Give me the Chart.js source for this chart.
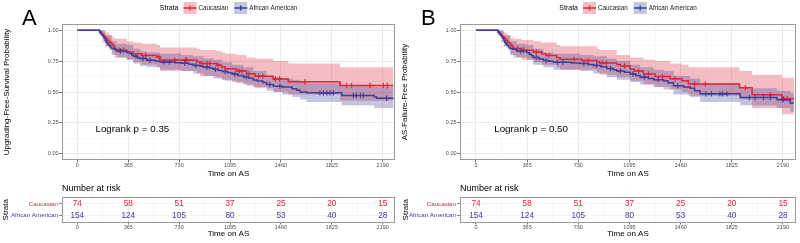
<!DOCTYPE html>
<html>
<head>
<meta charset="utf-8">
<script src="https://cdn.jsdelivr.net/npm/chart.js@4.4.1/dist/chart.umd.min.js"></script>
<style>
  html, body { margin: 0; padding: 0; background: #fff; }
  #wrap { position: relative; width: 800px; height: 243px; overflow: hidden; font-family: 'Liberation Sans', Arial, sans-serif; }
  canvas { position: absolute; }
  .tag { position: absolute; font-size: 22px; line-height: 22px; color: #000; }
</style>
</head>
<body>
<div id="wrap">
  <canvas id="kmA" width="400" height="180" style="left:0;top:0"></canvas>
  <canvas id="riskA" width="400" height="61" style="left:0;top:182px"></canvas>
  <canvas id="kmB" width="400" height="180" style="left:400px;top:0"></canvas>
  <canvas id="riskB" width="400" height="61" style="left:400px;top:182px"></canvas>
  <div class="tag" style="left:22px;top:7px">A</div>
  <div class="tag" style="left:421px;top:7px">B</div>
</div>
<script>
const FONT = "'Liberation Sans', Arial, sans-serif";
const RED = "#dc2638";
const BLUE = "#3e3e96";
const RED_BAND = "rgba(220, 38, 56, 0.3)";
const BLUE_BAND = "rgba(62, 62, 150, 0.3)";

const groups = ["Caucasian", "African American"];
const xTicks = [0, 365, 730, 1095, 1460, 1825, 2190];
const yTicks = [0, 0.25, 0.5, 0.75, 1];

// number at risk table
const riskTimes = [0, 365, 730, 1095, 1460, 1825, 2190];
const cauRisk = [74, 58, 51, 37, 25, 20, 15];
const aaRisk = [154, 124, 105, 80, 53, 40, 28];

// KM curves: [time, survival, censored]
const cauA = [
  [0, 1, 0], [158, .986, 0], [170, .973, 0], [182, .959, 0], [194, .946, 0], [205, .932, 0], [216, .919, 0],
  [228, .905, 0], [240, .892, 0], [252, .878, 0], [262, .865, 0], [268, .851, 0], [275, .838, 0], [300, .838, 1],
  [330, .838, 1], [354, .824, 0], [400, .810, 0], [461, .796, 0], [490, .796, 1], [569, .782, 0], [585, .782, 1],
  [593, .758, 0], [700, .758, 1], [775, .758, 1], [785, .758, 1], [856, .745, 0], [880, .731, 0], [895, .731, 1],
  [930, .731, 1], [950, .731, 1], [999, .717, 0], [1010, .717, 1], [1035, .703, 0], [1060, .689, 0], [1142, .669, 0],
  [1160, .669, 1], [1180, .669, 1], [1214, .648, 0], [1230, .648, 1], [1274, .628, 0], [1300, .628, 1], [1330, .628, 1],
  [1405, .605, 0], [1420, .605, 1], [1450, .605, 1], [1513, .583, 0], [1632, .583, 1], [1883, .553, 0], [1931, .553, 1],
  [1967, .553, 1], [2099, .553, 1], [2194, .553, 1], [2223, .553, 1], [2266, .553, 0],
];
const aaA = [
  [0, 1, 0], [160, .987, 0], [168, .974, 0], [176, .961, 0], [184, .948, 0], [192, .935, 0], [200, .916, 0],
  [208, .903, 0], [216, .890, 0], [226, .877, 0], [236, .864, 0], [246, .851, 0], [262, .845, 0], [282, .832, 0],
  [310, .832, 1], [354, .819, 0], [375, .812, 0], [390, .799, 0], [402, .790, 0], [420, .790, 1], [430, .777, 0],
  [449, .770, 0], [470, .770, 1], [497, .756, 0], [520, .756, 1], [560, .749, 0], [593, .742, 0], [620, .742, 1],
  [660, .742, 1], [700, .737, 0], [748, .732, 0], [770, .732, 1], [800, .725, 0], [830, .715, 0], [850, .715, 1],
  [880, .708, 0], [905, .701, 0], [930, .701, 1], [950, .692, 0], [975, .683, 0], [990, .683, 1], [1010, .674, 0],
  [1040, .665, 0], [1060, .665, 1], [1080, .656, 0], [1110, .645, 0], [1130, .645, 1], [1150, .634, 0], [1190, .622, 0],
  [1210, .622, 1], [1230, .611, 0], [1262, .598, 0], [1290, .588, 0], [1330, .576, 0], [1358, .561, 0], [1380, .561, 1],
  [1406, .547, 0], [1453, .547, 1], [1470, .540, 0], [1540, .527, 0], [1575, .514, 0], [1597, .500, 0], [1645, .493, 0],
  [1740, .493, 1], [1765, .493, 1], [1790, .493, 1], [1812, .493, 1], [1836, .493, 1], [1896, .472, 0], [1979, .472, 1],
  [2000, .472, 1], [2030, .472, 1], [2050, .472, 1], [2130, .460, 0], [2147, .450, 0], [2218, .450, 1], [2268, .450, 0],
];
const cauB = [
  [0, 1, 0], [155, .986, 0], [167, .973, 0], [179, .959, 0], [191, .946, 0], [202, .932, 0], [213, .919, 0],
  [225, .905, 0], [237, .892, 0], [249, .878, 0], [260, .865, 0], [267, .851, 0], [295, .851, 1], [326, .838, 0],
  [340, .838, 1], [409, .824, 0], [430, .824, 1], [469, .810, 0], [500, .796, 0], [520, .796, 1], [576, .778, 0],
  [600, .764, 0], [700, .764, 1], [755, .755, 0], [800, .755, 1], [862, .745, 0], [880, .735, 0], [900, .735, 1],
  [930, .735, 1], [1004, .722, 0], [1030, .710, 0], [1060, .710, 1], [1100, .685, 0], [1130, .670, 0], [1160, .670, 1],
  [1195, .645, 0], [1230, .645, 1], [1278, .625, 0], [1330, .625, 1], [1386, .607, 0], [1420, .607, 1], [1469, .590, 0],
  [1516, .565, 0], [1560, .565, 1], [1636, .565, 1], [1880, .534, 0], [1921, .534, 1], [1970, .477, 0], [2100, .477, 1],
  [2183, .445, 0], [2195, .445, 1], [2219, .445, 1], [2268, .445, 0],
];
const aaB = [
  [0, 1, 0], [158, .987, 0], [166, .974, 0], [174, .961, 0], [182, .948, 0], [190, .935, 0], [198, .916, 0],
  [206, .903, 0], [214, .890, 0], [222, .877, 0], [232, .864, 0], [243, .851, 0], [262, .845, 0], [290, .832, 0],
  [320, .832, 1], [362, .819, 0], [380, .806, 0], [395, .793, 0], [409, .780, 0], [430, .780, 1], [450, .767, 0],
  [481, .755, 0], [500, .755, 1], [520, .748, 0], [552, .740, 0], [580, .740, 1], [620, .740, 1], [680, .735, 0],
  [743, .730, 0], [770, .730, 1], [800, .722, 0], [838, .715, 0], [860, .715, 1], [890, .705, 0], [933, .690, 0],
  [960, .690, 1], [980, .680, 0], [1004, .670, 0], [1030, .670, 1], [1060, .660, 0], [1100, .645, 0], [1120, .645, 1],
  [1140, .633, 0], [1171, .620, 0], [1200, .620, 1], [1230, .610, 0], [1266, .600, 0], [1300, .600, 1], [1338, .590, 0],
  [1370, .575, 0], [1409, .550, 0], [1440, .550, 1], [1480, .540, 0], [1528, .530, 0], [1560, .510, 0], [1599, .485, 0],
  [1640, .485, 1], [1680, .485, 1], [1740, .485, 1], [1760, .485, 1], [1790, .485, 1], [1885, .455, 0], [1950, .455, 1],
  [1990, .455, 1], [2050, .455, 1], [2100, .455, 1], [2147, .437, 0], [2190, .437, 1], [2242, .412, 0], [2268, .412, 0],
];

// confidence bands: [time, lower, upper]
const cauBandA = [
  [0, 1, 1], [158, .96, 1], [182, .90, .99], [205, .87, .98], [228, .84, .96], [252, .81, .94], [268, .78, .93],
  [354, .76, .91], [400, .74, .90], [461, .72, .89], [569, .70, .88], [593, .67, .86], [856, .65, .85], [880, .63, .84],
  [999, .62, .83], [1035, .60, .82], [1060, .59, .81], [1142, .57, .80], [1214, .55, .78], [1274, .53, .77],
  [1405, .50, .75], [1513, .48, .73], [1883, .43, .70], [2266, .43, .70],
];
const aaBandA = [
  [0, 1, 1], [160, .97, 1], [200, .87, .96], [246, .80, .91], [282, .78, .89], [354, .76, .88], [402, .73, .85],
  [449, .71, .83], [497, .70, .82], [593, .68, .81], [748, .67, .80], [830, .65, .79], [905, .63, .77], [975, .61, .76],
  [1040, .60, .74], [1110, .58, .72], [1190, .56, .70], [1262, .54, .67], [1358, .51, .63], [1406, .50, .62],
  [1470, .48, .61], [1540, .46, .60], [1597, .44, .58], [1645, .42, .57], [1896, .39, .55], [2130, .37, .54], [2268, .37, .54],
];
const cauBandB = [
  [0, 1, 1], [155, .96, 1], [179, .90, .99], [202, .87, .98], [225, .84, .96], [249, .81, .94], [267, .78, .93],
  [326, .76, .92], [409, .74, .91], [469, .72, .90], [576, .70, .88], [600, .68, .87], [862, .66, .85], [880, .64, .84],
  [1004, .62, .80], [1100, .59, .78], [1195, .56, .76], [1278, .54, .75], [1386, .52, .73], [1469, .50, .72],
  [1516, .47, .70], [1880, .44, .67], [1970, .37, .64], [2183, .32, .615], [2268, .32, .615],
];
const aaBandB = [
  [0, 1, 1], [158, .97, 1], [198, .87, .96], [243, .80, .91], [290, .78, .89], [362, .76, .88], [409, .72, .85],
  [481, .70, .82], [552, .68, .81], [743, .67, .80], [838, .65, .79], [933, .62, .77], [1004, .60, .75], [1100, .58, .72],
  [1171, .56, .70], [1266, .54, .68], [1338, .52, .67], [1409, .48, .63], [1528, .46, .61], [1599, .42, .57],
  [1885, .39, .53], [2147, .37, .51], [2242, .34, .49], [2268, .34, .49],
];

// grid: major ticks plus ggplot style minor lines half way between
const xMinor = xTicks.slice(1).map((v, i) => (v + xTicks[i]) / 2);
const yMinor = yTicks.slice(1).map((v, i) => (v + yTicks[i]) / 2);
const xGrid = [...xTicks, ...xMinor].sort((a, b) => a - b);
const yGrid = [...yTicks, ...yMinor].sort((a, b) => a - b);

const TICK_FONT = { family: FONT, size: 5.5 };
const TITLE_FONT = { family: FONT, size: 8 };

// gray border round the panel
const frame = {
  id: "frame",
  afterDraw(chart) {
    const { ctx, chartArea: a } = chart;
    ctx.save();
    ctx.strokeStyle = "#9a9a9a";
    ctx.lineWidth = 1;
    ctx.strokeRect(Math.round(a.left) + 0.5, Math.round(a.top) + 0.5, Math.round(a.right - a.left) - 1, Math.round(a.bottom - a.top) - 1);
    ctx.restore();
  },
};

// legend on top + logrank text
const kmExtras = {
  id: "kmExtras",
  afterDraw(chart, args, opts) {
    const { ctx, chartArea: a, scales } = chart;
    ctx.save();
    ctx.textBaseline = "middle";
    ctx.textAlign = "left";
    ctx.fillStyle = "#000";
    ctx.font = `9.8px ${FONT}`;
    ctx.fillText(opts.pval, scales.x.getPixelForValue(opts.at[0]), scales.y.getPixelForValue(opts.at[1]));

    const cy = 8;
    const key = 13;
    ctx.font = `7px ${FONT}`;
    const wS = ctx.measureText("Strata").width;
    ctx.font = `6.3px ${FONT}`;
    const w1 = ctx.measureText(groups[0]).width;
    const w2 = ctx.measureText(groups[1]).width;
    const total = wS + 5 + key + 2 + w1 + 6 + key + 2 + w2;
    let x0 = (a.left + a.right) / 2 - total / 2;
    ctx.font = `7px ${FONT}`;
    ctx.fillText("Strata", x0, cy);
    x0 += wS + 5;
    [[RED, RED_BAND, groups[0], w1], [BLUE, BLUE_BAND, groups[1], w2]].forEach(([line, fill, label, w]) => {
      ctx.fillStyle = fill;
      ctx.fillRect(x0, cy - 6, key, 12);
      ctx.strokeStyle = line;
      ctx.lineWidth = 1.4;
      ctx.beginPath();
      ctx.moveTo(x0, cy);
      ctx.lineTo(x0 + key, cy);
      ctx.moveTo(x0 + key / 2, cy - 2.6);
      ctx.lineTo(x0 + key / 2, cy + 2.6);
      ctx.stroke();
      ctx.fillStyle = "#1a1a1a";
      ctx.font = `6.3px ${FONT}`;
      ctx.fillText(label, x0 + key + 2, cy);
      x0 += key + 2 + w + 6;
    });
    ctx.restore();
  },
};

// counts written at each point of the risk table
const riskLabels = {
  id: "riskLabels",
  afterDatasetsDraw(chart) {
    const { ctx, chartArea: a } = chart;
    ctx.save();
    ctx.textAlign = "center";
    ctx.textBaseline = "middle";
    ctx.font = `8.2px ${FONT}`;
    chart.data.datasets.forEach((ds, i) => {
      ctx.fillStyle = ds.textColor;
      chart.getDatasetMeta(i).data.forEach((pt, j) => {
        ctx.fillText(String(ds.data[j].n), pt.x, pt.y);
      });
    });
    ctx.textAlign = "left";
    ctx.fillStyle = "#000";
    ctx.font = `9px ${FONT}`;
    ctx.fillText("Number at risk", a.left, a.top - 8);
    ctx.restore();
  },
};

const isMajorX = (v) => xTicks.includes(v);
const isMajorY = (v) => yTicks.includes(v);

const xScale = (xMin, xMax, height, titlePad, tickLen) => ({
  type: "linear",
  min: xMin,
  max: xMax,
  afterBuildTicks: (s) => { s.ticks = xGrid.map((v) => ({ value: v })); },
  afterFit: (s) => { s.height = height; },
  ticks: {
    autoSkip: false,
    maxRotation: 0,
    padding: 0,
    color: "#4d4d4d",
    font: TICK_FONT,
    callback: (v) => (isMajorX(v) ? String(v) : ""),
  },
  grid: {
    color: (c) => (isMajorX(c.tick.value) ? "#e8e8e8" : "#f4f4f4"),
    lineWidth: (c) => (isMajorX(c.tick.value) ? 0.9 : 0.6),
    tickLength: tickLen,
    tickColor: (c) => (isMajorX(c.tick.value) ? "#666" : "rgba(0,0,0,0)"),
  },
  border: { display: false },
  title: { display: true, text: "Time on AS", color: "#000", font: TITLE_FONT, padding: { top: 0, bottom: titlePad } },
});

function makeKm(id, o) {
  const band = (rows, col, color, fill, order) => ({
    data: rows.map((r) => ({ x: r[0], y: r[col] })),
    stepped: true,
    borderWidth: 0,
    borderColor: "rgba(0,0,0,0)",
    backgroundColor: color,
    pointRadius: 0,
    fill,
    order,
  });
  const curve = (rows, color, order) => ({
    data: rows.map((r) => ({ x: r[0], y: r[1], c: r[2] })),
    stepped: true,
    borderColor: color,
    borderWidth: 1.5,
    fill: false,
    pointStyle: "cross",
    pointRadius: (c) => (c.raw && c.raw.c ? 2.7 : 0),
    pointBorderColor: color,
    pointBorderWidth: 1.1,
    order,
  });

  return new Chart(document.getElementById(id), {
    type: "line",
    data: {
      datasets: [
        band(o.cauBand, 2, RED_BAND, "+1", 4),
        band(o.cauBand, 1, RED_BAND, false, 4),
        band(o.aaBand, 2, BLUE_BAND, "+1", 3),
        band(o.aaBand, 1, BLUE_BAND, false, 3),
        curve(o.cau, RED, 2),
        curve(o.aa, BLUE, 1),
      ],
    },
    options: {
      responsive: false,
      animation: false,
      devicePixelRatio: 1,
      events: [],
      layout: { padding: { top: 24, right: o.right, left: 0, bottom: 0 } },
      plugins: {
        legend: { display: false },
        tooltip: { enabled: false },
        kmExtras: { pval: o.pval, at: [130, 0.2] },
      },
      scales: {
        x: xScale(o.xMin, o.xMax, 20, 1, 2.5),
        y: {
          type: "linear",
          min: -0.05,
          max: 1.05,
          afterBuildTicks: (s) => { s.ticks = yGrid.map((v) => ({ value: v })); },
          afterFit: (s) => { s.width = o.yWidth; },
          ticks: {
            autoSkip: false,
            padding: 0.5,
            color: "#4d4d4d",
            font: TICK_FONT,
            callback: (v) => (isMajorY(v) ? v.toFixed(2) : ""),
          },
          grid: {
            color: (c) => (isMajorY(c.tick.value) ? "#e8e8e8" : "#f4f4f4"),
            lineWidth: (c) => (isMajorY(c.tick.value) ? 0.9 : 0.6),
            tickLength: 3,
            tickColor: (c) => (isMajorY(c.tick.value) ? "#666" : "rgba(0,0,0,0)"),
          },
          border: { display: false },
          title: { display: true, text: o.yTitle, color: "#000", font: TITLE_FONT, padding: { top: o.yTitlePad, bottom: 0 } },
        },
      },
    },
    plugins: [frame, kmExtras],
  });
}

function makeRisk(id, o) {
  return new Chart(document.getElementById(id), {
    type: "scatter",
    data: {
      datasets: [
        { data: riskTimes.map((t, i) => ({ x: t, y: 2, n: cauRisk[i] })), textColor: RED, pointRadius: 0 },
        { data: riskTimes.map((t, i) => ({ x: t, y: 1, n: aaRisk[i] })), textColor: BLUE, pointRadius: 0 },
      ],
    },
    options: {
      responsive: false,
      animation: false,
      devicePixelRatio: 1,
      events: [],
      layout: { padding: { top: 15, right: o.right, left: 0, bottom: 0 } },
      plugins: { legend: { display: false }, tooltip: { enabled: false } },
      scales: {
        x: xScale(o.xMin, o.xMax, 20.5, 4.2, 2),
        y: {
          type: "linear",
          min: 0.4,
          max: 2.6,
          afterBuildTicks: (s) => { s.ticks = [{ value: 1 }, { value: 2 }]; },
          afterFit: (s) => { s.width = o.yWidth; },
          ticks: {
            autoSkip: false,
            padding: 1,
            font: { family: FONT, size: 6.2 },
            color: (c) => (c.tick && c.tick.value === 2 ? RED : BLUE),
            callback: (v) => (v === 2 ? groups[0] : groups[1]),
          },
          grid: { color: "#efefef", lineWidth: 0.8, tickLength: 3, tickColor: "#666" },
          border: { display: false },
          title: { display: true, text: "Strata", color: "#000", font: TITLE_FONT, padding: { top: 0.5, bottom: 0 } },
        },
      },
    },
    plugins: [frame, riskLabels],
  });
}

makeKm("kmA", {
  cau: cauA, aa: aaA, cauBand: cauBandA, aaBand: aaBandA,
  yTitle: "Upgrading-Free-Survival Probability", pval: "Logrank p = 0.35",
  xMin: -110, xMax: 2278, yWidth: 62, right: 5, yTitlePad: 2,
});
makeRisk("riskA", { xMin: -110, xMax: 2278, yWidth: 62, right: 5 });
makeKm("kmB", {
  cau: cauB, aa: aaB, cauBand: cauBandB, aaBand: aaBandB,
  yTitle: "AS-Failure-Free Probability", pval: "Logrank p = 0.50",
  xMin: -114, xMax: 2283, yWidth: 60, right: 4, yTitlePad: 0,
});
makeRisk("riskB", { xMin: -114, xMax: 2283, yWidth: 60, right: 4 });
</script>
</body>
</html>
